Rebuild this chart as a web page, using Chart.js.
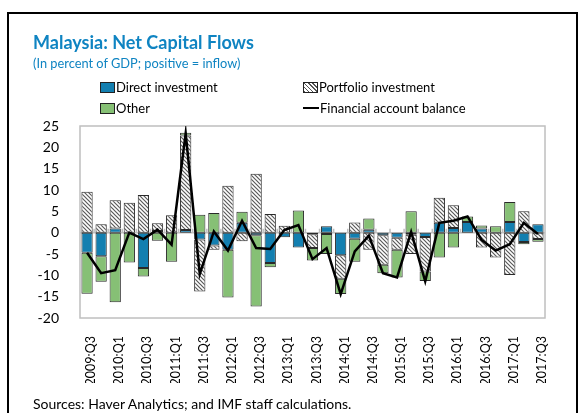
<!DOCTYPE html>
<html>
<head>
<meta charset="utf-8">
<script src="https://cdn.jsdelivr.net/npm/chart.js@4.4.1/dist/chart.umd.min.js"></script>
<style>
  body { margin: 0; width: 578px; height: 413px; overflow: hidden; background: #fff; font-family: Lato, sans-serif; position: relative; }
  #frame { position: absolute; left: 7px; top: 12px; width: 567px; height: 420px; border-left: 2px solid #000; border-top: 2px solid #000; border-right: 2px solid #000; }
  #chart { position: absolute; left: 0; top: 0; }
  .title { position: absolute; left: 33px; top: 31px; font-size: 18px; font-weight: bold; color: #0f84c2; }
  .subtitle { position: absolute; left: 33px; top: 55px; font-size: 12.8px; color: #0f84c2; }
  .leg { position: absolute; font-size: 13px; color: #000; display: flex; align-items: center; }
  .leg .box { width: 13px; height: 9px; border: 1px solid #222; margin-right: 1px; }
  .leg .ln { width: 16px; height: 2px; background: #000; margin-right: 1px; }
  .source { position: absolute; left: 33px; top: 395px; font-size: 14px; color: #000; }
</style>
</head>
<body>
<div id="frame"></div>
<canvas id="chart" width="578" height="413"></canvas>
<div class="title">Malaysia: Net Capital Flows</div>
<div class="subtitle">(In percent of GDP; positive = inflow)</div>
<div class="leg" style="left:100px; top:79px;"><span class="box" style="background:#137fb0"></span>Direct investment</div>
<div class="leg" style="left:303px; top:79px;"><span class="box" style="background:repeating-linear-gradient(45deg,#555 0 1px,#fff 1px 3px)"></span>Portfolio investment</div>
<div class="leg" style="left:100px; top:100px;"><span class="box" style="background:#86c075"></span>Other</div>
<div class="leg" style="left:303px; top:100px;"><span class="ln"></span>Financial account balance</div>
<div class="source">Sources: Haver Analytics; and IMF staff calculations.</div>
<script>
// quarters
const categories = ['2009:Q3','2009:Q4','2010:Q1','2010:Q2','2010:Q3','2010:Q4','2011:Q1','2011:Q2','2011:Q3','2011:Q4',
  '2012:Q1','2012:Q2','2012:Q3','2012:Q4','2013:Q1','2013:Q2','2013:Q3','2013:Q4','2014:Q1','2014:Q2',
  '2014:Q3','2014:Q4','2015:Q1','2015:Q2','2015:Q3','2015:Q4','2016:Q1','2016:Q2','2016:Q3','2016:Q4',
  '2017:Q1','2017:Q2','2017:Q3'];

// series (percent of GDP)
const directInvestment = [-4.7,-5.5,1.0,0,-8.3,0.4,0,0.6,-1.6,-3.0,-4.0,2.3,-0.6,-7.1,-1.1,-3.5,-0.4,1.5,-5.3,-1.4,
  0.7,-0.6,-1.2,-0.5,-1.0,2.3,1.1,2.5,1.0,0,2.5,-2.2,2.0];
const portfolioInvestment = [9.6,2.0,6.6,7.0,8.8,1.8,4.1,22.2,-12.2,-1.0,11.0,-2.0,13.8,4.4,1.6,0,-3.2,-0.3,-5.5,2.4,
  -4.0,-6.9,-2.8,-4.5,-8.1,5.9,5.3,0,-3.5,-5.8,-9.9,5.0,-1.5];
const otherFlows = [-9.6,-6.0,-16.3,-7.0,-2.0,-1.9,-6.8,0.6,4.2,4.6,-11.2,2.6,-16.7,-1.0,0,5.2,-2.9,-4.7,-3.6,-5.4,
  2.6,-2.0,-6.5,5.0,-2.2,-5.8,-3.5,1.3,0.7,1.5,4.7,-0.5,-0.6];
const financialBalance = [-4.7,-9.5,-8.8,0,-1.5,0.7,-2.8,23.3,-9.7,0.3,-4.2,2.8,-3.6,-3.8,0.6,1.8,-6.2,-3.6,-14.4,-4.4,
  -0.7,-9.5,-10.5,0.2,-11.4,2.3,2.8,3.8,-1.7,-4.2,-2.7,2.3,-0.3];

const yTicks = [-20,-15,-10,-5,0,5,10,15,20,25];

// hatch pattern for portfolio bars
function makeHatch() {
    const c = document.createElement('canvas');
    c.width = 4; c.height = 4;
    const g = c.getContext('2d');
    g.fillStyle = '#fff';
    g.fillRect(0, 0, 4, 4);
    g.strokeStyle = '#5a5a5a';
    g.lineWidth = 1.2;
    g.beginPath();
    g.moveTo(-1, -1); g.lineTo(5, 5);
    g.moveTo(-1, 3); g.lineTo(1, 5);
    g.moveTo(3, -1); g.lineTo(5, 1);
    g.stroke();
    return g.createPattern(c, 'repeat');
}

// frame, zero line and little ticks
const framePlugin = {
    id: 'framePlugin',
    beforeDatasetsDraw(chart) {
        const { ctx, chartArea: a, scales } = chart;
        const y0 = scales.y.getPixelForValue(0);
        ctx.save();
        ctx.strokeStyle = '#bfbfbf';
        ctx.lineWidth = 1.5;
        ctx.strokeRect(a.left, a.top, a.right - a.left, a.bottom - a.top);
        ctx.beginPath();
        ctx.moveTo(a.left, y0);
        ctx.lineTo(a.right, y0);
        const step = (a.right - a.left) / categories.length;
        for (let i = 1; i < categories.length; i++) {
            const x = a.left + step * i;
            ctx.moveTo(x, y0);
            ctx.lineTo(x, y0 - 4);
        }
        ctx.stroke();
        ctx.restore();
    }
};

const barCommon = {
    type: 'bar',
    stack: 'flows',
    order: 1,
    borderColor: '#2a2a2a',
    borderWidth: 1,
    borderSkipped: false,
    barPercentage: 0.8,
    categoryPercentage: 1.0
};

new Chart(document.getElementById('chart'), {
    data: {
        labels: categories,
        datasets: [
            Object.assign({ label: 'Direct investment', data: directInvestment, backgroundColor: '#137fb0' }, barCommon),
            Object.assign({ label: 'Portfolio investment', data: portfolioInvestment, backgroundColor: makeHatch() }, barCommon),
            Object.assign({ label: 'Other', data: otherFlows, backgroundColor: '#86c075' }, barCommon),
            {
                type: 'line',
                label: 'Financial account balance',
                data: financialBalance,
                stack: 'fab',
                order: 0,
                borderColor: '#000',
                borderWidth: 2.5,
                pointRadius: 0,
                tension: 0,
                fill: false
            }
        ]
    },
    options: {
        responsive: false,
        animation: false,
        layout: { padding: { top: 126, right: 33, bottom: 30, left: 0 } },
        plugins: { legend: { display: false }, tooltip: { enabled: false } },
        scales: {
            x: {
                stacked: true,
                grid: { display: false },
                border: { display: false },
                afterFit: (scale) => { scale.height = 65; },
                ticks: {
                    autoSkip: false,
                    minRotation: 90,
                    maxRotation: 90,
                    padding: 10,
                    labelOffset: 4,
                    color: '#000',
                    font: { family: 'Lato', size: 12.5 },
                    callback: function(value, index) {
                        return index % 2 === 0 ? categories[index] : '';
                    }
                }
            },
            y: {
                stacked: true,
                min: -20,
                max: 25,
                grid: { display: false },
                border: { display: false },
                afterFit: (scale) => { scale.width = 80; },
                afterBuildTicks: (scale) => { scale.ticks = yTicks.map(v => ({ value: v })); },
                ticks: {
                    padding: 13,
                    color: '#000',
                    font: { family: 'Lato', size: 14 }
                }
            }
        }
    },
    plugins: [framePlugin]
});
</script>
</body>
</html>
